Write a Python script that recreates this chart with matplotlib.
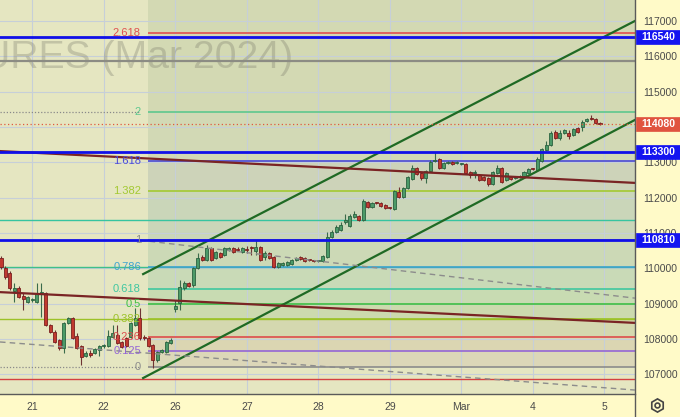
import matplotlib
matplotlib.use("Agg")
import matplotlib.pyplot as plt
import matplotlib.transforms as mtransforms
from matplotlib.patches import Rectangle
from matplotlib.lines import Line2D
import numpy as np

plt.rcParams['font.family'] = ['Liberation Sans', 'DejaVu Sans']

# hourly candles (16 per session)
opens = [110290, 110010, 109870, 109360, 109440, 109220, 109050, 109100, 109050, 109300,
         109300, 108400, 108200, 107970, 107750, 108450, 108600, 108090, 107800, 107520,
         107600, 107600, 107690, 107800, 107800, 108060, 108110, 107920, 108030, 108060,
         108400, 108600, 108030, 108030, 107830, 107410, 107630, 107630, 107890, 108850,
         109020, 109440, 109590, 109530, 110010, 110320, 110240, 110580, 110290, 110430,
         110380, 110520, 110580, 110550, 110460, 110520, 110580, 110490, 110600, 110320,
         110430, 110320, 110040, 110100, 110100, 110120, 110240, 110290, 110290, 110240,
         110210, 110200, 110210, 110320, 110890, 111030, 111090, 111310, 111200, 111450,
         111480, 111370, 111880, 111740, 111850, 111850, 111790, 111710, 111680, 112160,
         112020, 112270, 112530, 112840, 112700, 112560, 112750, 113040, 113100, 112840,
         112980, 113010, 112980, 112950, 112950, 112730, 112700, 112640, 112590, 112560,
         112390, 112700, 112840, 112500, 112590, 112560, 112590, 112610, 112700, 112810,
         112780, 113040, 113350, 113490, 113860, 113690, 113830, 113830, 113770, 113970,
         114000, 114170, 114230, 114230, 114110]
highs = [110350, 110070, 109920, 109590, 109500, 109300, 109220, 109160, 109590, 109590,
         109330, 108430, 108250, 108000, 108480, 108620, 108620, 108170, 107830, 107660,
         107690, 107750, 107830, 107860, 108250, 108400, 108400, 107940, 108060, 108480,
         108880, 108880, 108110, 108060, 107860, 107660, 107720, 107940, 108030, 109100,
         109670, 109640, 109610, 110040, 110430, 110380, 110660, 110600, 110490, 110460,
         110600, 110600, 110600, 110600, 110600, 110630, 110630, 110800, 110630, 110490,
         110460, 110350, 110180, 110180, 110210, 110260, 110320, 110350, 110320, 110260,
         110240, 110240, 110380, 111030, 111090, 111230, 111310, 111540, 111540, 111620,
         111510, 111960, 111910, 111880, 111880, 111880, 111820, 111740, 112220, 112300,
         112300, 112610, 112930, 112870, 112730, 112780, 113070, 113290, 113120, 113010,
         113040, 113040, 113040, 112980, 112980, 112760, 112780, 112670, 112610, 112590,
         112760, 112930, 112870, 112730, 112610, 112610, 112640, 112760, 112840, 112840,
         113150, 113410, 113600, 113890, 113920, 113920, 113940, 113920, 113970, 114000,
         114200, 114260, 114340, 114260, 114140]
lows = [109980, 109700, 109390, 109050, 109160, 108820, 109020, 109050, 109020, 108620,
        108370, 108170, 107890, 107690, 107600, 108420, 108000, 107720, 107270, 107490,
        107490, 107580, 107520, 107740, 107770, 108030, 107860, 107750, 107770, 108030,
        108370, 107970, 107970, 107770, 107180, 107350, 107600, 107600, 107860, 108780,
        108820, 109380, 109470, 109470, 109980, 110210, 110210, 110210, 110260, 110290,
        110350, 110490, 110430, 110490, 110430, 110430, 110380, 110380, 110210, 110240,
        110260, 110010, 110010, 110070, 110070, 110100, 110210, 110240, 110180, 110210,
        110180, 110180, 110180, 110290, 110860, 111000, 111060, 111260, 111170, 111420,
        111340, 111340, 111710, 111710, 111820, 111740, 111680, 111680, 111650, 111990,
        111990, 112240, 112500, 112640, 112500, 112420, 112730, 113010, 112810, 112810,
        112950, 112920, 112950, 112920, 112670, 112560, 112560, 112470, 112470, 112330,
        112360, 112670, 112420, 112470, 112500, 112530, 112560, 112590, 112670, 112780,
        112760, 113010, 113320, 113460, 113660, 113630, 113800, 113660, 113750, 113830,
        113890, 114140, 114200, 114080, 114060]
closes = [110040, 109760, 109440, 109440, 109190, 109130, 109190, 109110, 109300, 109330,
          108400, 108200, 107920, 107750, 108450, 108600, 108030, 107750, 107490, 107600,
          107550, 107720, 107800, 107810, 108090, 108170, 107890, 107770, 107800, 108450,
          108600, 108030, 108020, 107800, 107410, 107630, 107690, 107920, 107970, 108930,
          109470, 109590, 109500, 110010, 110290, 110240, 110580, 110240, 110460, 110320,
          110580, 110580, 110460, 110520, 110580, 110510, 110570, 110600, 110240, 110430,
          110290, 110040, 110150, 110150, 110180, 110240, 110290, 110280, 110210, 110230,
          110200, 110210, 110350, 110890, 111030, 111170, 111230, 111370, 111480, 111540,
          111370, 111910, 111740, 111850, 111840, 111760, 111710, 111700, 112190, 112020,
          112270, 112590, 112840, 112670, 112560, 112750, 113010, 113050, 112840, 112980,
          113010, 112950, 113010, 112950, 112700, 112640, 112730, 112500, 112500, 112390,
          112730, 112840, 112440, 112700, 112530, 112590, 112610, 112730, 112810, 112800,
          113100, 113380, 113490, 113830, 113690, 113830, 113920, 113750, 113940, 113860,
          114140, 114230, 114220, 114110, 114080]

day_ticks = [7, 23, 39, 55, 71, 87, 103, 119, 135]
day_labels = ["21", "22", "26", "27", "28", "29", "Mar", "4", "5"]
price_ticks = [107000, 108000, 109000, 110000, 111000, 112000, 113000, 114000, 115000, 116000, 117000]
price_labels = ["107000", "108000", "109000", "110000", "111000", "112000", "113000", "", "115000", "116000", "117000"]

# fibonacci extension
fib_base = [107200, 110810]
fib_ratios = [0, 0.125, 0.236, 0.382, 0.5, 0.618, 0.786, 1, 1.382, 1.618, 2, 2.618]
fib_labels = ["0", "0.125", "0.236", "0.382", "0.5", "0.618", "0.786", "1", "1.382", "1.618", "2", "2.618"]
fib_colors = ["#8c8c8c", "#9466d6", "#dd4c4c", "#9cc228", "#3fbf44", "#3fc7a0", "#3fa3cf",
              "#8c8c8c", "#a3c932", "#4a4ad8", "#5ec88e", "#e0504f"]
fib_fills = ["#dcd7b8", "#dbd6b2", "#d4d8af", "#ccdaae", "#c8dbb2", "#c9dab7",
             "#ccd9b6", "#cad6b9", "#cdd3b9", "#d2d9b5", "#d3d9b3", "#d3d9b3"]
fib_start = 32.9
fib_label_x = 31.3

# horizontal levels
blue_levels = [116540, 113300, 110810]
gray_level = 115870
teal_level = 111380
red_level = 106870
last_price = 114080

# trend lines (bar index, price)
channel_up = [(31.8, 109840), (141.8, 117000)]
channel_low = [(31.8, 106900), (141.8, 114200)]
maroon_up = [(-0.22, 113320), (141.8, 112420)]
maroon_low = [(-0.22, 109330), (141.8, 108460)]
dash_up = [(31.1, 110800), (141.8, 109160)]
dash_low = [(-0.22, 107920), (141.8, 106560)]

xmin, xmax = -0.22, 141.83
ymin, ymax = 106448, 117594

fig = plt.figure(figsize=(6.8, 4.17), dpi=100, facecolor="#fffac8")
ax = fig.add_axes([0, 23 / 417, 635 / 680, 394 / 417])
ax.set_facecolor("#e5e6c1")
ax.set_xlim(xmin, xmax)
ax.set_ylim(ymin, ymax)

fib_prices = [fib_base[0] + r * (fib_base[1] - fib_base[0]) for r in fib_ratios]

# shaded fib bands
for k in range(len(fib_prices)):
    top = fib_prices[k + 1] if k + 1 < len(fib_prices) else ymax
    ax.fill_between([fib_start, xmax], fib_prices[k], top, color=fib_fills[k], lw=0, zorder=0)

ax.text(293 / 635, 1 - 68 / 394, "RTS INDEX FUTURES (Mar 2024)", transform=ax.transAxes,
        ha="right", va="baseline", fontsize=28.2, color="#7c7c6c", alpha=0.33, zorder=1)

# grid
ax.set_axisbelow(True)
ax.set_xticks(day_ticks)
ax.set_xticklabels(day_labels)
ax.set_yticks(price_ticks)
ax.set_yticklabels(price_labels)
ax.grid(color="#c6cfd8", lw=0.8)

# full width lines
ax.axhline(gray_level, color="#8c8c84", lw=1.6, zorder=2)
ax.axhline(teal_level, color="#36c4a0", lw=1.0, zorder=2)
ax.axhline(fib_prices[6], color="#3fbf8a", lw=1.0, zorder=2)
ax.axhline(fib_prices[3], color="#9cc228", lw=1.0, zorder=2)
ax.axhline(red_level, color="#d44040", lw=1.0, zorder=2)

# fib lines and labels
for p, lab, col in zip(fib_prices, fib_labels, fib_colors):
    ax.hlines(p, fib_start, xmax, color=col, lw=1.2, zorder=2)
    ax.text(fib_label_x, p, lab, ha="right", va="center", color=col, fontsize=8, zorder=5)
ax.hlines([fib_prices[10], fib_prices[0]], xmin, 31.1, colors="#8a8a8a", linestyles=(0, (1, 1.5)), lw=0.9, zorder=2)

# candles
x = np.arange(len(opens))
o = np.array(opens)
h = np.array(highs)
l = np.array(lows)
c = np.array(closes)
up = c >= o
bottom = np.minimum(o, c)
height = np.maximum(np.abs(c - o), 30)
ax.vlines(x[up], l[up], h[up], color="#3b6b4b", lw=0.8, zorder=3)
ax.vlines(x[~up], l[~up], h[~up], color="#6e3434", lw=0.8, zorder=3)
ax.bar(x[up], height[up], bottom=bottom[up], width=0.68, color="#4c9a68", edgecolor="#2b6240", lw=0.6, zorder=3)
ax.bar(x[~up], height[~up], bottom=bottom[~up], width=0.68, color="#c0392f", edgecolor="#7a1f1f", lw=0.6, zorder=3)

# drawings on top
for line, col in [(channel_up, "#1f6a24"), (channel_low, "#1f6a24"),
                  (maroon_up, "#7a2424"), (maroon_low, "#7a2424")]:
    ax.plot([line[0][0], line[1][0]], [line[0][1], line[1][1]], color=col, lw=1.6, zorder=4)
for line in [dash_up, dash_low]:
    ax.plot([line[0][0], line[1][0]], [line[0][1], line[1][1]], color="#8c8c8c", lw=1.0,
            ls=(0, (4, 3)), zorder=4)

for p in blue_levels:
    ax.axhline(p, color="#1010e8", lw=2.0, zorder=4)
ax.axhline(last_price, color="#e05a40", lw=0.9, ls=(0, (1, 2)), zorder=4)

# axes styling
ax.yaxis.tick_right()
ax.tick_params(axis="y", length=0, pad=6, labelsize=7.5, labelcolor="#4a4a4a")
ax.tick_params(axis="x", length=0, pad=6, labelsize=7.5, labelcolor="#4a4a4a")
for s in ["left", "top", "right"]:
    ax.spines[s].set_visible(False)
ax.spines["bottom"].set_color("#5a5a5a")
ax.spines["bottom"].set_linewidth(1.0)
fig.add_artist(Line2D([635 / 680, 635 / 680], [0, 1], color="#5a5a5a", lw=1.0, transform=fig.transFigure))

# price boxes on the axis
blend = mtransforms.blended_transform_factory(fig.transFigure, ax.transData)
for p, col in [(116540, "#1414f0"), (113300, "#1414f0"), (110810, "#1414f0"), (last_price, "#e0533f")]:
    fig.add_artist(Rectangle((636 / 680, p - 195), 44 / 680, 390, transform=blend,
                             facecolor=col, edgecolor=col, lw=0.5, zorder=5))
    fig.text(658 / 680, p, str(p), transform=blend, ha="center", va="center",
             color="white", fontsize=7.5, fontweight="bold", zorder=6)

# settings icon
fig.add_artist(Line2D([657 / 680], [12 / 417], marker="h", ms=9.5, mfc="none", mec="#444444",
                      mew=1.2, transform=fig.transFigure))
fig.add_artist(Line2D([657 / 680], [12 / 417], marker="o", ms=3.5, mfc="none", mec="#444444",
                      mew=1.2, transform=fig.transFigure))

fig.savefig("out.png", dpi=100, facecolor=fig.get_facecolor())
